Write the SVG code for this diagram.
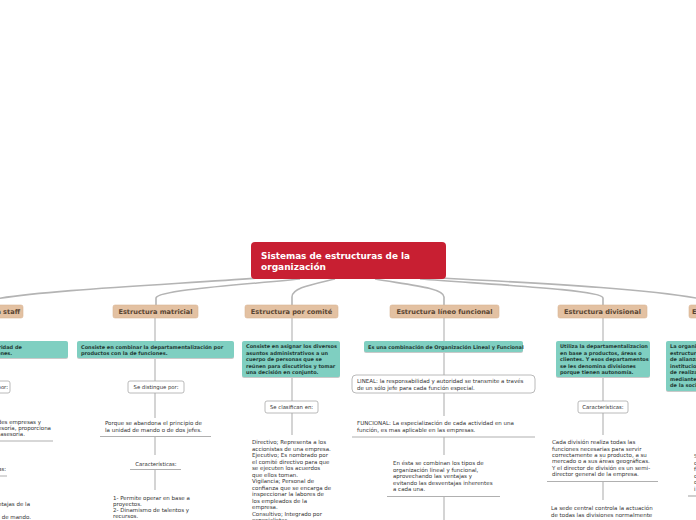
<svg xmlns="http://www.w3.org/2000/svg" width="696" height="520" viewBox="0 0 696 520">
<style>
.c{fill:none;stroke:#b4b4b4;stroke-width:1.6}
.v{fill:none;stroke:#b8b8b8;stroke-width:1.2}
.u{fill:none;stroke:#b0b0b0;stroke-width:1.2}
.root{fill:#c81f32}
.rt{font-family:"DejaVu Sans",sans-serif;font-weight:bold;font-size:9px;fill:#fff}
.l1{fill:#e3c1a2;stroke:#d9b595;stroke-width:0.6}
.l1t{font-family:"DejaVu Sans",sans-serif;font-weight:bold;font-size:6.6px;fill:#5a4633;text-anchor:middle}
.tl{fill:#7fcfc1}
.sh{fill:#c9c9c9}
.tt{font-family:"DejaVu Sans",sans-serif;font-weight:bold;font-size:5px;fill:#1f3b35}
.bx{fill:#fff;stroke:#a8a8a8;stroke-width:0.8}
.bt{font-family:"DejaVu Sans",sans-serif;font-size:5.3px;fill:#333;text-anchor:middle}
.pt{font-family:"DejaVu Sans",sans-serif;font-size:5.5px;fill:#333}
</style>
<rect width="696" height="520" fill="#fff"/>
<g id="connectors">
<path class="c" d="M258 278 C180 284 40 290 -10 300"/>
<path class="c" d="M300 279 C240 285 158 290 156 298 L156 305"/>
<path class="c" d="M335 279 C310 285 292 288 292 297 L292 305"/>
<path class="c" d="M375 279 C410 285 444 288 444 297 L444 305"/>
<path class="c" d="M420 279 C500 285 603 290 603 298 L603 305"/>
<path class="c" d="M440 278 C560 284 660 290 706 300"/>
<path class="v" d="M155 318 V341 M155 359 V381 M155 393 V418 M155 437 V455 M155 470 V490"/>
<path class="v" d="M292 318 V341 M292 377 V401 M292 413 V435"/>
<path class="v" d="M444 318 V341 M444 352 V375 M444 393 V416 M444 437 V455 M444 497 V520"/>
<path class="v" d="M603 318 V341 M603 377 V401 M603 413 V435 M603 482 V500"/>
</g>
<g id="root">
<rect class="root" x="251" y="242" width="195" height="37" rx="4"/>
<text class="rt" x="261" y="259" textLength="149" lengthAdjust="spacingAndGlyphs">Sistemas de estructuras de la</text>
<text class="rt" x="261" y="270" textLength="65" lengthAdjust="spacingAndGlyphs">organización</text>
</g>
<g id="n-staff">
<rect class="l1" x="-70" y="305" width="93" height="13" rx="2"/>
<text class="l1t" x="20" y="314" style="text-anchor:end">Estructura staff</text>
<rect class="sh" x="-90" y="342" width="158" height="17" rx="2"/>
<rect class="tl" x="-90" y="341" width="158" height="17" rx="2"/>
<text class="tt" x="-47" y="349">disfruta de autoridad de</text>
<text class="tt" x="-17" y="355">funciones.</text>
<rect class="bx" x="-40" y="381" width="50" height="12" rx="2"/>
<text class="bt" x="8" y="389" style="text-anchor:end">Se distingue por:</text>
<text class="pt" x="41" y="424" style="text-anchor:end">grandes empresas y</text>
<text class="pt" x="51" y="430" style="text-anchor:end">asesoría, proporciona</text>
<text class="pt" x="25" y="436" style="text-anchor:end">asesoría.</text>
<path class="u" d="M-60 441 H53"/>
<text class="bt" x="6" y="471" style="text-anchor:end">Características:</text>
<path class="u" d="M-40 476 H7"/>
<text class="pt" x="30" y="506" style="text-anchor:end">Desventajas de la</text>
<text class="pt" x="31" y="519" style="text-anchor:end">unidad de mando.</text>
</g>
<g id="n-matricial">
<rect class="l1" x="113" y="305" width="85" height="13" rx="2"/>
<text class="l1t" x="155.5" y="314">Estructura matricial</text>
<rect class="sh" x="77" y="342" width="157" height="17" rx="2"/>
<rect class="tl" x="77" y="341" width="157" height="17" rx="2"/>
<text class="tt" x="81" y="349">Consiste en combinar la departamentalización por</text>
<text class="tt" x="81" y="355">productos con la de funciones.</text>
<rect class="bx" x="128" y="381" width="56" height="12" rx="2"/>
<text class="bt" x="156" y="389">Se distingue por:</text>
<text class="pt" x="105" y="425">Porque se abandona el principio de</text>
<text class="pt" x="105" y="431.5">la unidad de mando o de dos jefes.</text>
<path class="u" d="M100 436.5 H211"/>
<text class="bt" x="156" y="466">Características:</text>
<path class="u" d="M130 469.5 H181"/>
<text class="pt" x="113" y="500">1- Permite operar en base a</text>
<text class="pt" x="113" y="506">proyectos.</text>
<text class="pt" x="113" y="512">2- Dinamismo de talentos y</text>
<text class="pt" x="113" y="518">recursos.</text>
</g>
<g id="n-comite">
<rect class="l1" x="245" y="305" width="93" height="13" rx="2"/>
<text class="l1t" x="291.5" y="314">Estructura por comité</text>
<rect class="sh" x="242" y="342" width="98" height="36" rx="2"/>
<rect class="tl" x="242" y="341" width="98" height="36" rx="2"/>
<text class="tt" x="246" y="348">Consiste en asignar los diversos</text>
<text class="tt" x="246" y="354.5">asuntos administrativos a un</text>
<text class="tt" x="246" y="361">cuerpo de personas que se</text>
<text class="tt" x="246" y="367.5">reúnen para discutirlos y tomar</text>
<text class="tt" x="246" y="374">una decisión en conjunto.</text>
<rect class="bx" x="265" y="401" width="53" height="12" rx="2"/>
<text class="bt" x="291.5" y="409">Se clasifican en:</text>
<text class="pt" x="252" y="444">Directivo; Representa a los</text>
<text class="pt" x="252" y="450.5">accionistas de una empresa.</text>
<text class="pt" x="252" y="457">Ejecutivo; Es nombrado por</text>
<text class="pt" x="252" y="463.5">el comité directivo para que</text>
<text class="pt" x="252" y="470">se ejecuten los acuerdos</text>
<text class="pt" x="252" y="476.5">que ellos toman.</text>
<text class="pt" x="252" y="483">Vigilancia; Personal de</text>
<text class="pt" x="252" y="489.5">confianza que se encarga de</text>
<text class="pt" x="252" y="496">inspeccionar la labores de</text>
<text class="pt" x="252" y="502.5">los empleados de la</text>
<text class="pt" x="252" y="509">empresa.</text>
<text class="pt" x="252" y="515.5">Consultivo; Integrado por</text>
<text class="pt" x="252" y="522">especialistas</text>
</g>
<g id="n-lineofuncional">
<rect class="l1" x="390" y="305" width="109" height="13" rx="2"/>
<text class="l1t" x="444.5" y="314">Estructura líneo funcional</text>
<rect class="sh" x="364" y="342" width="159" height="11" rx="2"/>
<rect class="tl" x="364" y="341" width="159" height="11" rx="2"/>
<text class="tt" x="368" y="348.5">Es una combinación de Organización Lineal y Funcional</text>
<rect class="bx" x="352" y="375" width="183" height="18" rx="4"/>
<text class="pt" x="357" y="383">LINEAL: la responsabilidad y autoridad se transmite a través</text>
<text class="pt" x="357" y="389.5">de un sólo jefe para cada función especial.</text>
<text class="pt" x="357" y="425">FUNCIONAL: La especialización de cada actividad en una</text>
<text class="pt" x="357" y="431.5">función, es mas aplicable en las empresas.</text>
<path class="u" d="M352 437 H535"/>
<text class="pt" x="393" y="465">En ésta se combinan los tipos de</text>
<text class="pt" x="393" y="471.5">organización lineal y funcional,</text>
<text class="pt" x="393" y="478">aprovechando las ventajas y</text>
<text class="pt" x="393" y="484.5">evitando las desventajas inherentes</text>
<text class="pt" x="393" y="491">a cada una.</text>
<path class="u" d="M387 496.5 H500"/>
</g>
<g id="n-divisional">
<rect class="l1" x="558" y="305" width="89" height="13" rx="2"/>
<text class="l1t" x="602.5" y="314">Estructura divisional</text>
<rect class="sh" x="556" y="342" width="94" height="36" rx="2"/>
<rect class="tl" x="556" y="341" width="94" height="36" rx="2"/>
<text class="tt" x="560" y="348">Utiliza la departamentalizacion</text>
<text class="tt" x="560" y="354.5">en base a productos, áreas o</text>
<text class="tt" x="560" y="361">clientes. Y esos departamentos</text>
<text class="tt" x="560" y="367.5">se les denomina divisiones</text>
<text class="tt" x="560" y="374">porque tienen autonomía.</text>
<rect class="bx" x="578" y="401" width="50" height="12" rx="2"/>
<text class="bt" x="603" y="409">Características:</text>
<text class="pt" x="552" y="444">Cada división realiza todas las</text>
<text class="pt" x="552" y="450.5">funciones necesarias para servir</text>
<text class="pt" x="552" y="457">correctamente a su producto, a su</text>
<text class="pt" x="552" y="463">mercado o a sus áreas geográficas.</text>
<text class="pt" x="552" y="469.5">Y el director de división es un semi-</text>
<text class="pt" x="552" y="476">director general de la empresa.</text>
<path class="u" d="M547 481.5 H658"/>
<text class="pt" x="551" y="510">La sede central controla la actuación</text>
<text class="pt" x="551" y="516.5">de todas las divisiones normalmente</text>
</g>
<g id="n-red">
<rect class="l1" x="689" y="305" width="90" height="13" rx="2"/>
<text class="l1t" x="692" y="314" style="text-anchor:start">Estructura en red</text>
<rect class="sh" x="666" y="342" width="100" height="50" rx="2"/>
<rect class="tl" x="666" y="341" width="100" height="50" rx="2"/>
<text class="tt" x="670" y="348">La organización en red es una</text>
<text class="tt" x="670" y="354.5">estructura basada en acuerdos</text>
<text class="tt" x="670" y="361">de alianzas con otras</text>
<text class="tt" x="670" y="367.5">instituciones con el objetivo</text>
<text class="tt" x="670" y="374">de realizar actividades</text>
<text class="tt" x="670" y="380.5">mediante la colaboración</text>
<text class="tt" x="670" y="387">de la sociedad.</text>
<text class="pt" x="694" y="458">Se</text>
<text class="pt" x="694" y="464.5">c</text>
<text class="pt" x="694" y="471">f</text>
<text class="pt" x="694" y="477.5">c</text>
<text class="pt" x="694" y="484">d</text>
<text class="pt" x="694" y="490.5">i</text>
<path class="u" d="M688 496 H720"/>
</g>
</svg>
